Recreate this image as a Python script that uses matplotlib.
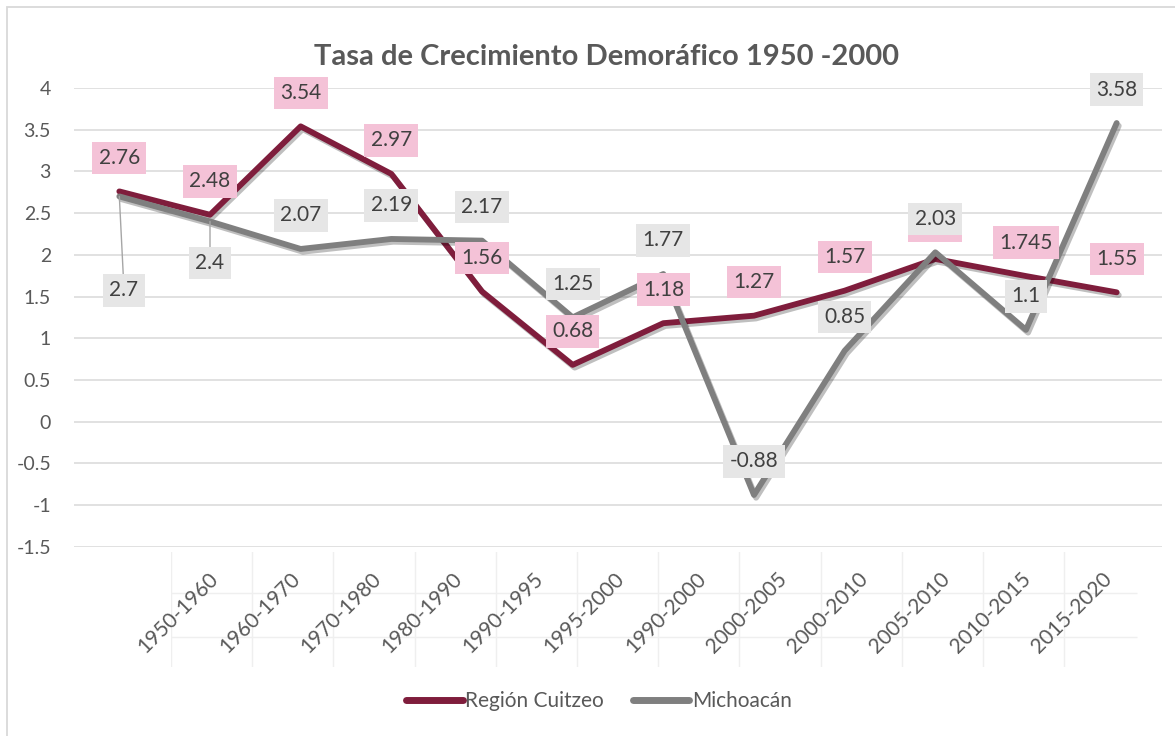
import matplotlib
matplotlib.use('Agg')
import matplotlib.pyplot as plt
import matplotlib.patheffects as pe
from matplotlib.lines import Line2D
from matplotlib.patches import Rectangle
import numpy as np

plt.rcParams['font.family'] = ['Lato', 'DejaVu Sans']

# ---------------- data ----------------
categories = ['1950-1960', '1960-1970', '1970-1980', '1980-1990', '1990-1995',
              '1995-2000', '1990-2000', '2000-2005', '2000-2010', '2005-2010',
              '2010-2015', '2015-2020']
cuitzeo = [2.76, 2.48, 3.54, 2.97, 1.56, 0.68, 1.18, 1.27, 1.57, 1.95, 1.745, 1.55]
michoacan = [2.7, 2.4, 2.07, 2.19, 2.17, 1.25, 1.77, -0.88, 0.85, 2.03, 1.1, 3.58]
yticks = [-1.5, -1, -0.5, 0, 0.5, 1, 1.5, 2, 2.5, 3, 3.5, 4]
ytick_labels = ['-1.5', '-1', '-0.5', '0', '0.5', '1', '1.5', '2', '2.5', '3', '3.5', '4']
series_names = ['Región Cuitzeo', 'Michoacán']
title = 'Tasa de Crecimiento Demoráfico 1950 -2000'

# ---------------- style ----------------
C_CUI = '#7F1D3C'
C_MIC = '#7F7F7F'
BOX_CUI = '#F4C2D7'
BOX_MIC = '#E6E6E6'
TXT = '#595959'
LBL = '#404040'

W, H = 1175, 736
fig = plt.figure(figsize=(W / 100, H / 100), dpi=100)
fig.patch.set_facecolor('white')


def px_rect(x0, y0, x1, y1):
    return [x0 / W, 1 - y1 / H, (x1 - x0) / W, (y1 - y0) / H]


PT = 72 / 100  # points per pixel

# chart border
fig.add_artist(Rectangle((7 / W, -0.2), 1.5, 1.2 - 7.3 / H, transform=fig.transFigure,
                         fill=False, ec='#D9D9D9', lw=1.3))

ax = fig.add_axes(px_rect(74, 88, 1162, 546.7))
ax.set_xlim(-0.5, len(categories) - 0.5)
ax.set_ylim(-1.5, 4)
ax.set_yticks(yticks)
ax.set_yticklabels(ytick_labels)
ax.set_xticks([])
ax.grid(axis='y', color='#D9D9D9', lw=1.1, zorder=0)
ax.set_axisbelow(True)
for s in ax.spines.values():
    s.set_visible(False)
ax.tick_params(axis='y', length=0, pad=23 * PT, labelsize=14, labelcolor=TXT)
ax.patch.set_alpha(0)

x = np.arange(len(categories))
shadow = [pe.SimpleLineShadow(offset=(1.5, -2), shadow_color='black', alpha=0.25), pe.Normal()]
ax.plot(x, cuitzeo, color=C_CUI, lw=4.2, solid_capstyle='round', solid_joinstyle='round',
        path_effects=shadow, zorder=3)
ax.plot(x, michoacan, color=C_MIC, lw=4.2, solid_capstyle='round', solid_joinstyle='round',
        path_effects=shadow, zorder=4)

OFF = 33.5 * PT
box_kw = dict(boxstyle='square,pad=0.3', ec='none')
for i, v in enumerate(cuitzeo):
    ax.annotate(str(v), xy=(i, v), xytext=(0, OFF), textcoords='offset points',
                ha='center', va='center', fontsize=15, color=LBL,
                bbox=dict(fc=BOX_CUI, **box_kw), zorder=5, annotation_clip=False)

special = {0: (4.7 * PT, -94 * PT), 1: (0, -41.6 * PT)}
for i, v in enumerate(michoacan):
    if i in special:
        ax.annotate(str(v), xy=(i, v), xytext=special[i], textcoords='offset points',
                    ha='center', va='center', fontsize=15, color=LBL,
                    bbox=dict(fc=BOX_MIC, **box_kw), zorder=6, annotation_clip=False,
                    arrowprops=dict(arrowstyle='-', color='#A6A6A6', lw=1.0,
                                    shrinkA=0, shrinkB=0))
    else:
        ax.annotate(str(v), xy=(i, v), xytext=(0, OFF), textcoords='offset points',
                    ha='center', va='center', fontsize=15, color=LBL,
                    bbox=dict(fc=BOX_MIC, **box_kw), zorder=6, annotation_clip=False)

# category label band (with faint cell grid)
ax2 = fig.add_axes(px_rect(171, 551.7, 171 + 12 * 81.2, 666.7))
ax2.set_xlim(0, 12)
ax2.set_ylim(0, 1)
ax2.axis('off')
for k in range(len(categories)):
    ax2.axvline(k, color='#EFEFEF', lw=1, zorder=0)
ax2.hlines([0.638, 0.261], 0, 11.9, color='#EFEFEF', lw=1, zorder=0)
for i, c in enumerate(categories):
    ax2.text(i + 0.6, 0.75, c, rotation=45, rotation_mode='anchor',
             ha='right', va='baseline', fontsize=15, color=TXT)

fig.text(607 / W, 1 - 65 / H, title, ha='center', va='baseline', fontsize=21,
         fontweight='bold', color=TXT)

handles = [Line2D([0], [0], color=C_CUI, lw=5, solid_capstyle='round'),
           Line2D([0], [0], color=C_MIC, lw=5, solid_capstyle='round')]
fig.legend(handles=handles, labels=series_names, loc='center',
           bbox_to_anchor=(599 / W, 1 - 701 / H), ncol=2, frameon=False, fontsize=15,
           handlelength=2.7, handletextpad=0.12, columnspacing=1.4, labelcolor=TXT)

fig.savefig('out.png', dpi=100, facecolor='white')
